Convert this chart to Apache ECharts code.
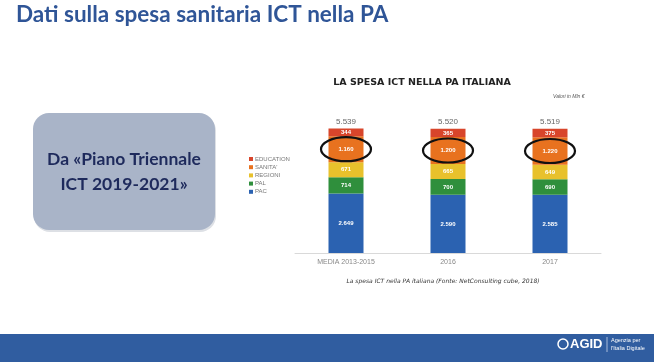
<!DOCTYPE html>
<html><head><meta charset="utf-8">
<script src="https://cdn.jsdelivr.net/npm/echarts@6/dist/echarts.min.js"></script>
<style>html,body{margin:0;padding:0;background:#fff}#c{width:654px;height:362px}</style>
</head><body><div id="c"></div>
<script>
const categories = ['MEDIA 2013-2015', '2016', '2017'];
const pac = [2649, 2590, 2585];
const pal = [714, 700, 690];
const regioni = [671, 665, 649];
const sanita = [1160, 1200, 1220];
const education = [344, 365, 375];
const totals = [5539, 5520, 5519];
const seriesNames = ['PAC', 'PAL', 'REGIONI', "SANITA'", 'EDUCATION'];
const legendOrder = ['EDUCATION', "SANITA'", 'REGIONI', 'PAL', 'PAC'];

function fmt(v) { return String(v).replace(/\B(?=(\d{3})+(?!\d))/g, '.'); }

const colors = ['#2b62b1', '#2f8f3c', '#e8c12c', '#e8721f', '#d8452b'];
const dataSets = [pac, pal, regioni, sanita, education];

const chart = echarts.init(document.getElementById('c'), null, {renderer: 'canvas'});

const series = dataSets.map((d, i) => ({
  name: seriesNames[i],
  type: 'bar',
  stack: 'tot',
  barWidth: 35,
  data: d,
  itemStyle: {color: colors[i]},
  label: {show: true, position: 'inside', color: '#fff', fontSize: 6, fontWeight: 'bold',
          fontFamily: 'Liberation Sans', formatter: p => fmt(p.value)},
  emphasis: {disabled: true}
}));
series.push({
  name: 'tot', type: 'bar', stack: 'tot', barWidth: 35,
  data: totals.map(() => 0),
  itemStyle: {color: 'transparent'},
  label: {show: true, position: 'top', distance: 3, color: '#666', fontSize: 8,
          fontFamily: 'Liberation Sans', formatter: p => fmt(totals[p.dataIndex])},
  emphasis: {disabled: true}
});

const option = {
  animation: false,
  backgroundColor: '#fff',
  textStyle: {fontFamily: 'Liberation Sans'},
  grid: {left: 295, width: 306, top: 118, bottom: 109, containLabel: false},
  legend: {
    data: legendOrder, orient: 'vertical', left: 249, top: 156, padding: 0,
    itemWidth: 4, itemHeight: 4, itemGap: 2.2, icon: 'rect',
    textStyle: {fontSize: 6, color: '#777', padding: [0, 0, 0, -3]}
  },
  xAxis: {
    type: 'category', data: categories,
    axisLine: {lineStyle: {color: '#d9d9d9'}}, axisTick: {show: false},
    axisLabel: {color: '#888', fontSize: 7, margin: 6}
  },
  yAxis: {type: 'value', min: 0, max: 6000, show: false, splitLine: {show: false}},
  series: series,
  graphic: [
    {type: 'text', left: 16, top: 3, style: {text: 'Dati sulla spesa sanitaria ICT nella PA',
      fill: '#2f5597', font: 'bold 22.5px Lato'}},
    {type: 'rect', shape: {x: 34, y: 115, width: 182, height: 117, r: 16},
      style: {fill: '#dde0e5'}, z: -2},
    {type: 'rect', shape: {x: 33, y: 113, width: 182, height: 117, r: 16},
      style: {fill: '#a9b4c8'}},
    {type: 'text', x: 124, y: 172, style: {text: 'Da «Piano Triennale\nICT 2019-2021»',
      fill: '#1e2a5c', font: 'bold 17.5px Lato', align: 'center', verticalAlign: 'middle', lineHeight: 25}},
    {type: 'text', x: 422, y: 83, style: {text: 'LA SPESA ICT NELLA PA ITALIANA',
      fill: '#222', font: 'bold 9.5px DejaVu Sans', align: 'center', verticalAlign: 'middle'}},
    {type: 'text', x: 553, y: 97, style: {text: 'Valori in Mln €',
      fill: '#555', font: 'italic 5px Liberation Sans', align: 'left', verticalAlign: 'middle'}},
    {type: 'text', x: 443, y: 281, style: {text: 'La spesa ICT nella PA italiana (Fonte: NetConsulting cube, 2018)',
      fill: '#333', font: 'italic 6px DejaVu Sans', align: 'center', verticalAlign: 'middle'}},
    {type: 'rect', shape: {x: 0, y: 334, width: 654, height: 28}, style: {fill: '#305da0'}},
    {type: 'circle', shape: {cx: 563, cy: 344, r: 5}, style: {fill: 'none', stroke: '#fff', lineWidth: 1.5}},
    {type: 'text', x: 570, y: 344, style: {text: 'AGID', fill: '#fff', font: 'bold 13px Liberation Sans', verticalAlign: 'middle'}},
    {type: 'line', shape: {x1: 607, y1: 337, x2: 607, y2: 352}, style: {stroke: '#c8d4ea', lineWidth: 0.8}},
    {type: 'text', x: 611, y: 344, style: {text: 'Agenzia per\nl\'Italia Digitale', fill: '#fff',
      font: '5.5px Liberation Sans', verticalAlign: 'middle', lineHeight: 8}}
  ]
};
chart.setOption(option);

const ellipses = categories.map((c, i) => {
  const mid = pac[i] + pal[i] + regioni[i] + sanita[i] / 2;
  const pt = chart.convertToPixel({seriesIndex: 3}, [i, mid]);
  return {type: 'ellipse', shape: {cx: pt[0], cy: pt[1], rx: 25, ry: 12},
    style: {fill: 'none', stroke: '#111', lineWidth: 2.2}, z: 100};
});
chart.setOption({graphic: option.graphic.concat(ellipses)});
</script></body></html>
